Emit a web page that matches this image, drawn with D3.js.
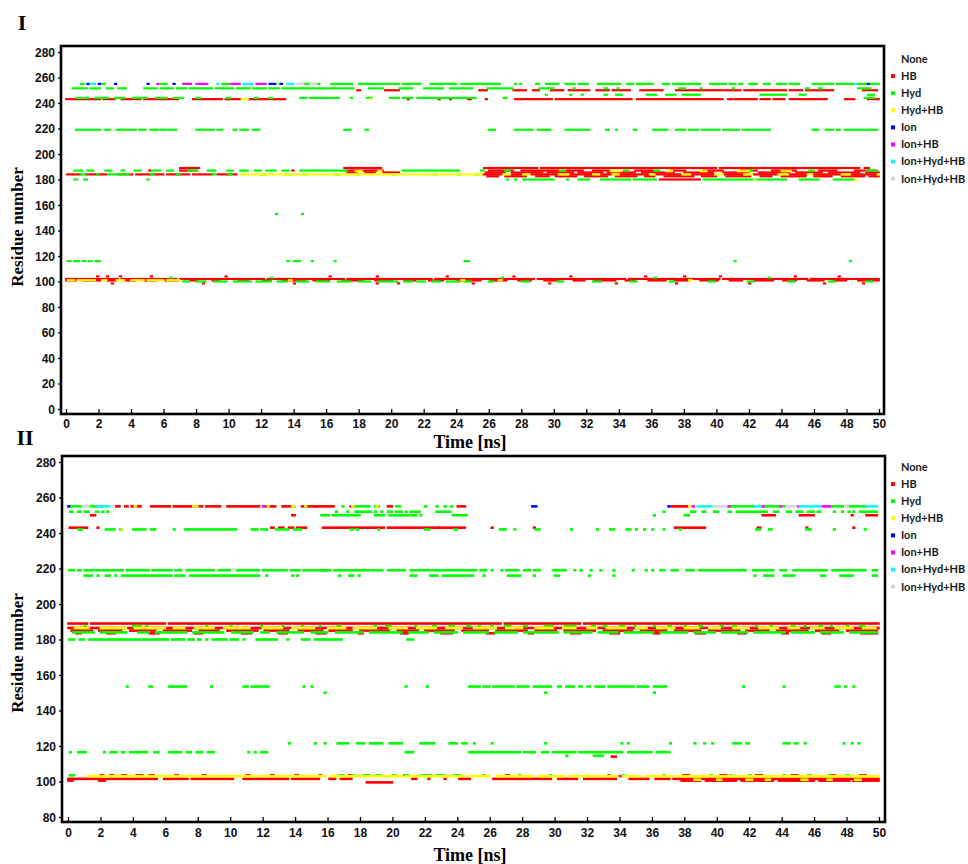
<!DOCTYPE html>
<html><head><meta charset="utf-8">
<script src="https://cdn.jsdelivr.net/npm/d3@7"></script>
<style>body{margin:0;background:#fff}</style></head>
<body><svg id="c" width="968" height="864"></svg>
<script>
// ---------- legend / categories ----------
const typeNames  = ["None","HB","Hyd","Hyd+HB","Ion","Ion+HB","Ion+Hyd+HB","Ion+Hyd+HB"];
const typeColors = [null,"#ff0000","#00ff00","#ffff00","#0000ff","#ff00ff","#00ffff","#d8d8d8"];
const xTicks  = [0,2,4,6,8,10,12,14,16,18,20,22,24,26,28,30,32,34,36,38,40,42,44,46,48,50];
const yTicks1 = [0,20,40,60,80,100,120,140,160,180,200,220,240,260,280];
const yTicks2 = [80,100,120,140,160,180,200,220,240,260,280];

// ---------- Panel I : [residue, [[tStart,tEnd],...]] ----------
const p1HB = [
 [250,[[17.9,18.1],[19.6,20.5],[25.4,25.9],[27.5,28.3],[28.7,29.1],[29.8,30.6],[30.9,32.2],[32.6,33.4],[33.6,34.7],[35.3,36.7],[37.5,40.4],[40.5,41.5],[41.7,44.3],[44.5,45.3],[45.5,47.2],[49.0,49.9]]],
 [243,[[0,2.1],[2.3,3.0],[3.4,4.6],[4.8,6.9],[7.8,9.6],[9.8,10.7],[11.2,13.5],[21.0,21.1],[22.9,23.0],[23.6,23.7],[24.7,24.9],[25.8,25.9],[27.6,29.9],[30.1,34.8],[35.1,40.4],[40.7,41.0],[41.1,42.5],[42.7,43.3],[43.5,44.2],[44.5,45.4],[45.5,46.8],[47.9,48.5],[49.3,50]]],
 [189,[[7.0,8.2],[17.1,19.4],[25.7,29.0],[29.2,40.0],[40.2,42.3],[42.4,48.8],[49.1,49.4]]],
 [187,[[5.1,5.2],[7.0,8.0],[13.9,14.0],[17.2,19.5],[26.0,27.5],[28.0,30.3],[30.8,31.8],[32.4,33.4],[35.0,36.1],[37.2,38.1],[39.2,40.4],[41.5,42.5],[43.4,44.9],[46.3,47.4],[48.5,49.8]]],
 [185.5,[[17.3,17.9],[18.4,19.0],[19.5,20.5],[25.8,27.0],[27.4,29.3],[29.6,31.2],[31.5,33.0],[33.3,35.0],[35.4,37.4],[38.0,39.8],[40.4,42.0],[42.6,44.5],[44.9,46.5],[46.9,48.8],[49.2,50]]],
 [184,[[0.04,0.9],[1.2,2.5],[3.2,4.1],[4.3,6.0],[6.2,7.6],[7.8,9.0],[9.3,10.5],[25.6,26.8],[27.4,28.0],[28.6,30.2],[31.0,32.4],[32.9,33.6],[34.1,35.9],[36.3,37.8],[38.4,39.9],[40.5,41.6],[42.3,43.8],[44.5,45.6],[46.0,47.7],[48.3,49.9]]],
 [182.5,[[25.9,26.6],[27.0,28.3],[28.9,29.7],[30.1,31.4],[31.9,33.3],[33.8,35.1],[35.6,36.2],[36.8,38.6],[39.1,40.0],[40.6,42.1],[42.7,43.4],[44.0,45.5],[46.0,47.1],[47.7,49.1],[49.4,50]]],
 [180,[[36.5,39.0]]],
 [104,[[1.9,2.0],[2.5,2.6],[3.3,3.4],[5.2,5.3],[9.8,9.9],[16.2,16.3],[19.1,19.2],[23.4,23.5],[27.5,27.6],[31.0,31.1],[35.6,35.7],[38.0,38.1],[40.2,40.3],[44.8,44.9],[47.5,47.6]]],
 [102,[[0,3.2],[3.4,6.8],[7.0,12.2],[12.4,17.1],[17.3,22.5],[22.7,28.8],[29.0,34.4],[34.6,40.2],[40.4,45.6],[45.8,50]]],
 [100.8,[[0,0.6],[1.0,2.1],[2.5,3.1],[3.6,4.3],[4.8,5.6],[6.1,6.9],[7.6,8.1],[9.0,9.4],[10.6,11.2],[12.1,12.6],[13.3,14.7],[15.2,16.2],[17.0,18.3],[19.0,20.1],[20.8,21.5],[22.3,23.2],[24.0,25.5],[26.1,27.1],[27.8,28.6],[29.4,30.3],[31.2,31.9],[32.5,33.8],[34.4,35.0],[35.8,36.9],[37.4,38.3],[39.0,40.1],[40.8,41.6],[42.3,43.5],[44.1,44.9],[45.6,46.6],[47.2,48.0],[48.7,50]]],
 [98.5,[[2.8,2.9],[8.4,8.5],[14.0,14.1],[19.1,19.2],[20.4,20.5],[25.0,25.1],[29.7,29.8],[33.8,33.9],[37.5,37.6],[42.0,42.1],[46.6,46.7],[49.0,49.1]]]
];
const p1Hyd = [
 [255,[[0.9,1.1],[1.5,1.7],[2.2,2.4],[5.8,6.2],[7.2,7.5],[9.6,10.0],[13.1,13.3],[14.4,15.6],[16.3,17.6],[18.0,20.5],[20.7,21.8],[22.4,24.0],[24.3,26.7],[27.6,27.7],[27.9,28.0],[28.9,29.1],[29.5,30.3],[30.7,31.3],[31.5,32.1],[32.7,34.1],[34.5,34.9],[35.1,36.1],[36.7,37.1],[37.3,39.0],[39.6,40.6],[40.8,41.2],[41.4,41.6],[42.0,42.5],[42.9,43.3],[43.7,44.3],[44.5,45.1],[45.9,47.2],[47.4,48.4],[48.7,50]]],
 [251.5,[[0.4,0.9],[1.0,1.3],[1.5,1.9],[2.0,2.1],[2.5,2.9],[3.2,3.7],[4.8,5.6],[5.8,6.6],[6.8,7.4],[7.6,9.0],[9.2,10.3],[10.5,11.3],[11.5,12.3],[12.5,13.1],[13.3,14.4],[14.4,17.7],[18.6,19.5],[20.5,21.3],[22.0,23.2],[23.6,25.0],[25.9,27.5],[29.1,30.0],[31.2,31.3],[33.1,33.3],[33.9,34.0],[37.7,38.1],[39.0,39.1],[41.0,41.1],[45.5,45.7],[46.3,46.5],[48.7,49.5]]],
 [246.5,[[29.5,29.6],[31.0,31.1],[31.7,31.8],[33.1,33.3],[33.8,34.2],[35.7,36.3],[36.9,37.5],[37.9,39.0],[42.7,44.3],[45.1,45.5],[49.3,49.7]]],
 [244,[[0.6,1.4],[1.8,2.6],[3.0,3.6],[4.1,5.0],[5.5,6.2],[6.6,7.2],[8.0,8.3],[9.9,10.1],[11.6,11.8],[12.5,12.7],[14.4,14.8],[15.0,16.4],[16.5,16.8],[17.5,17.6],[18.5,18.8],[19.9,20.5],[20.7,21.3],[21.6,25.2],[26.9,27.1],[49.1,49.7]]],
 [219,[[0.6,2.1],[2.4,2.7],[3.1,4.3],[4.5,4.9],[5.2,5.7],[5.8,6.2],[6.3,6.8],[8.0,9.1],[9.3,9.6],[10.3,10.5],[10.7,11.2],[11.5,11.9],[17.1,17.5],[18.4,18.6],[26.0,26.4],[27.6,28.7],[29.0,29.8],[30.7,32.2],[33.2,33.4],[33.8,33.9],[34.9,35.1],[36.1,37.0],[37.5,38.1],[38.3,38.9],[39.1,40.2],[40.4,41.4],[41.6,43.3],[45.9,46.3],[46.7,47.2],[47.4,47.6],[47.9,49.9]]],
 [187,[[0.5,1.0],[1.3,1.7],[2.4,2.8],[3.4,3.6],[4.2,4.6],[5.3,5.8],[6.2,6.6],[7.5,8.1],[8.7,9.2],[9.9,10.3],[10.7,11.2],[11.6,12.0],[12.3,12.9],[13.3,13.7],[14.4,17.3],[20.7,24.2],[25.5,25.7],[27.0,27.3],[30.4,30.7],[34.3,34.6],[36.2,36.5],[41.9,42.2],[45.7,46.0],[49.2,49.9]]],
 [184,[[0.9,1.2],[1.9,2.0],[2.6,3.9],[5.2,5.4],[6.8,7.0],[9.0,9.2],[10.0,10.2],[12.0,12.3],[13.5,13.8],[14.6,14.8],[16.5,16.8],[17.8,18.0],[20.1,20.3],[22.6,22.8],[24.1,24.3],[25.2,25.4]]],
 [180,[[0.5,0.7],[1.1,1.3],[5.0,5.1],[27.1,27.2],[27.6,27.7],[28.1,30.0],[30.8,30.9],[31.5,32.2],[32.9,34.7],[34.9,36.3],[39.2,40.6],[40.7,42.3],[42.5,44.3],[45.1,46.3],[47.2,48.5]]],
 [153,[[12.9,13.0],[14.5,14.6]]],
 [116,[[0.1,0.3],[0.5,0.8],[1.0,1.2],[1.4,1.6],[1.8,2.1],[13.6,13.7],[14.0,14.4],[15.1,15.2],[16.5,16.6],[24.5,24.8],[41.1,41.2],[48.2,48.3]]],
 [103,[[6.4,6.5],[12.6,12.7],[26.8,26.9],[36.2,36.3],[43.2,43.3]]],
 [100,[[7.2,7.6],[8.0,8.6],[9.1,9.9],[10.3,11.4],[11.7,12.6],[13.0,13.6],[14.2,14.9],[15.4,16.2],[16.7,17.5],[18.0,18.7],[19.2,20.4],[20.8,21.3],[21.6,22.1],[22.5,23.0],[23.4,24.2],[24.5,24.9],[26.0,26.3],[28.0,28.5],[30.2,30.6],[32.4,32.9],[34.7,35.1],[37.1,37.4],[39.5,39.9],[41.9,42.3],[44.4,44.8],[46.9,47.3],[49.2,49.6]]]
];
const p1HydHB = [
 [243,[[10.8,11.2],[18.7,18.8]]],
 [184,[[10.7,25.6],[26.9,27.3],[28.1,28.5],[30.3,30.9],[32.4,32.8],[33.6,34.0],[35.9,36.2],[37.9,38.4],[39.9,40.4],[41.7,42.2],[43.8,44.4],[45.6,45.9],[47.7,48.2],[49.9,50]]],
 [186.5,[[17.8,18.2],[19.2,19.4],[33.5,34.1],[36.9,37.3],[39.0,39.4],[41.3,42.0],[44.0,44.6]]],
 [101,[[0.1,0.5],[0.7,1.8],[2.2,2.5],[3.1,3.6],[4.0,4.8],[5.0,6.0],[6.2,7.0],[13.7,13.9],[24.3,24.5],[26.6,26.8],[38.3,38.5]]],
 [180,[[42.3,42.4],[48.5,48.6]]]
];
const p1Ion      = [[255,[[1.3,1.4],[2.0,2.1],[3.0,3.1],[5.0,5.1],[6.6,6.7],[12.5,12.9],[13.2,13.3],[49.3,49.4]]]];
const p1IonHB    = [[255,[[5.6,5.7],[7.2,7.7],[8.0,8.7],[10.1,10.7],[11.7,12.3]]]];
const p1IonHydHB = [[255,[[1.5,1.8],[9.3,9.4],[10.9,11.5],[13.6,14.0],[48.5,48.6]]]];
const p1Grey     = [[255,[[14.2,14.6],[15.0,15.4]]]];

// ---------- Panel II ----------
const p2HB = [
 [255,[[2.95,3.2],[3.5,3.7],[3.9,4.5],[5.1,6.3],[6.5,7.1],[7.2,8.3],[8.5,9.4],[9.8,11.8],[12.2,12.8],[13.2,14.0],[14.4,15.3],[15.3,16.4],[17.4,17.6],[19.7,20.0],[24.0,24.1],[24.2,24.5],[37.2,38.2]]],
 [250,[[1.4,1.7],[13.8,14.0],[42.8,43.6],[45.1,46.0],[48.3,48.4],[49.2,49.9]]],
 [243,[[0.08,1.2],[1.8,1.9],[12.5,12.7],[13.0,13.3],[13.6,13.9],[14.1,14.7],[15.7,18.5],[18.6,19.5],[19.7,20.0],[20.1,21.6],[21.7,22.9],[22.9,24.5],[26.1,26.2],[28.7,28.8],[37.4,39.3],[42.5,42.7],[45.5,45.6],[48.4,48.5]]],
 [189,[[0,1.2],[1.4,6.0],[6.2,26.7],[26.9,31.6],[31.8,50]]],
 [186.5,[[0,50]]],
 [185,[[0.2,1.5],[1.9,3.3],[3.8,5.4],[5.9,7.6],[8.1,9.3],[9.8,11.7],[12.1,13.6],[14.2,15.7],[16.1,17.5],[18.0,19.8],[20.3,21.6],[22.0,23.8],[24.3,25.9],[26.4,28.3],[28.8,30.1],[30.6,32.5],[33.0,34.8],[35.3,36.9],[37.4,39.0],[39.5,41.4],[41.8,43.2],[43.7,45.6],[46.1,47.5],[48.0,49.9]]],
 [183.5,[[0.5,0.8],[2.4,2.9],[5.0,5.6],[7.8,8.3],[10.7,11.3],[13.0,13.5],[15.3,15.9],[17.9,18.2],[20.5,21.0],[23.0,23.7],[25.8,26.3],[28.4,28.7],[31.0,31.6],[33.4,34.0],[36.1,36.5],[38.7,39.3],[41.3,41.8],[44.0,44.4],[46.5,47.0],[48.9,49.9]]],
 [114,[[33.5,33.8]]],
 [103.5,[[2.0,2.2],[2.6,2.8],[3.3,3.6],[4.2,4.6],[5.0,5.3],[6.6,6.8],[8.3,8.5],[11.0,11.2],[12.5,12.7],[14.0,14.2],[15.5,15.6],[17.3,17.5],[20.1,20.2],[27.0,27.2],[33.3,33.4],[37.9,38.3],[40.2,40.6],[42.4,42.8],[44.6,45.0],[46.9,47.3],[48.8,49.2]]],
 [101.5,[[0,5.5],[5.9,7.4],[7.6,10.2],[10.8,13.6],[13.8,15.5],[16.1,16.5],[16.8,17.5],[21.2,21.5],[22.2,22.3],[23.2,23.3],[24.1,24.8],[26.2,29.8],[30.2,31.4],[31.8,33.8],[34.6,35.8],[36.2,37.1],[37.3,50]]],
 [100.5,[[0,0.3],[1.9,2.3],[37.8,39.0],[39.3,41.2],[41.5,43.5],[43.8,46.0],[46.3,48.2],[48.4,50]]],
 [99.5,[[18.4,20.0]]]
];
const p2Hyd = [
 [255,[[0.15,0.9],[1.3,1.8],[2.0,2.1],[16.9,17.0],[17.7,18.6],[18.9,19.2],[20.2,20.5],[22.0,22.1],[22.7,22.8],[23.2,23.3],[23.6,23.7],[40.7,42.3],[42.9,43.8],[44.1,44.2],[47.1,47.8],[48.1,49.2]]],
 [252,[[0.1,0.3],[0.6,0.8],[1.0,1.3],[1.7,1.9],[2.1,2.2],[2.4,2.5],[16.5,16.6],[17.2,17.3],[17.7,18.7],[18.9,19.0],[19.3,19.4],[19.7,20.0],[20.2,20.6],[20.8,20.9],[21.1,21.7],[22.7,23.6],[36.7,36.8],[38.4,38.7],[39.1,39.3],[39.8,40.1],[40.7,40.9],[41.2,43.1],[43.5,43.8],[44.3,44.6],[44.9,45.3],[45.6,46.0],[46.2,46.4],[47.2,47.3],[47.7,47.8],[48.1,48.2],[48.4,48.5],[48.8,49.9]]],
 [250,[[15.6,15.7],[15.8,16.1],[16.3,18.0],[18.9,19.5],[19.8,21.0],[21.1,21.5],[21.7,21.8],[23.7,24.6],[36.1,36.2],[38.0,38.3]]],
 [242,[[0.6,0.9],[2.3,2.9],[3.2,3.3],[4.0,4.8],[5.1,5.4],[6.5,6.6],[7.2,10.4],[11.3,11.7],[11.9,12.3],[12.8,13.6],[13.9,14.4],[17.4,17.6],[17.8,17.9],[19.1,19.2],[22.0,22.3],[23.8,24.0],[26.6,27.0],[27.5,27.6],[28.8,29.1],[31.0,31.1],[32.6,32.7],[33.4,33.7],[34.4,34.7],[35.0,35.1],[35.5,35.6],[36.0,36.1],[36.7,36.8],[37.7,37.8],[42.4,42.7],[43.2,43.4],[45.5,45.8],[47.2,47.3],[49.1,49.2]]],
 [219,[[0.05,0.4],[0.6,0.8],[1.0,1.6],[1.7,2.4],[2.5,3.1],[3.2,3.4],[3.6,5.0],[5.2,6.4],[6.6,7.0],[7.3,8.2],[8.3,9.0],[9.3,10.0],[10.4,10.8],[10.9,11.8],[12.0,12.6],[12.7,13.5],[13.7,14.3],[14.5,15.9],[15.6,16.2],[16.4,18.6],[18.7,19.4],[19.7,20.8],[21.1,21.5],[21.6,22.3],[22.4,23.0],[23.1,24.6],[24.7,25.2],[25.4,25.8],[26.1,26.2],[26.7,26.8],[27.0,27.8],[28.1,28.5],[28.7,29.1],[29.9,30.7],[31.2,31.3],[31.6,31.7],[32.2,32.3],[32.8,32.9],[33.6,33.7],[34.8,34.9],[35.6,35.7],[36.0,36.1],[36.5,36.8],[37.2,37.6],[38.1,38.6],[38.9,41.8],[42.2,43.5],[43.9,44.3],[44.7,45.0],[45.1,46.8],[47.1,49.2],[49.6,49.9]]],
 [216,[[1.0,1.5],[1.8,1.9],[2.3,2.6],[2.9,3.0],[3.3,6.4],[6.6,7.2],[7.5,11.8],[12.2,12.3],[13.8,13.9],[14.1,14.2],[16.7,16.8],[17.3,17.6],[17.9,18.0],[21.1,21.5],[22.3,22.8],[23.1,25.0],[25.6,25.7],[27.1,27.9],[28.7,28.8],[30.0,30.3],[32.1,32.2],[33.6,33.7],[42.3,42.4],[42.9,43.5],[44.1,44.8],[46.4,46.7],[47.6,48.4],[49.6,49.9]]],
 [187.5,[[1.0,1.1],[4.0,4.5],[4.8,4.9],[8.5,8.6],[10.0,10.1],[11.9,12.0],[13.2,13.3],[14.4,14.5],[15.5,15.6],[16.6,16.8],[18.9,19.0],[19.6,19.9],[21.4,21.5],[22.5,22.7],[23.5,23.8],[24.6,24.8],[25.3,25.4],[26.1,26.2],[26.9,27.3],[28.1,28.3],[29.4,29.9],[30.6,31.3],[32.3,32.5],[33.0,33.2],[34.0,34.3],[34.9,35.0],[36.1,36.2],[37.0,37.2],[38.0,38.1],[38.9,39.1],[40.2,40.4],[41.0,41.2],[42.4,42.5],[43.3,43.4],[44.6,44.8],[45.4,45.5],[46.3,46.5],[47.0,47.1],[48.0,48.1],[48.8,49.1]]],
 [184,[[0.3,1.6],[2.0,3.6],[4.3,5.0],[5.4,7.3],[7.7,9.6],[10.1,11.4],[11.9,12.4],[12.9,14.5],[15.0,16.0],[16.5,18.2],[18.6,20.6],[21.0,22.2],[22.6,24.0],[24.4,25.9],[26.3,27.7],[28.1,30.2],[30.6,32.3],[32.7,33.9],[34.3,36.1],[36.5,38.2],[38.6,39.9],[40.3,41.9],[42.3,44.2],[44.6,46.0],[46.4,47.8],[48.2,49.9]]],
 [180,[[0.05,0.4],[0.7,1.0],[1.3,2.6],[2.7,4.0],[4.1,4.5],[4.6,6.2],[6.4,7.2],[7.4,7.8],[8.0,8.2],[8.5,8.6],[8.9,9.8],[10.0,10.5],[10.8,10.9],[11.6,12.9],[13.5,13.6],[14.4,14.9],[15.2,16.9],[20.9,21.3]]],
 [153.5,[[3.6,3.7],[5.0,5.2],[6.2,7.3],[8.8,8.9],[10.8,11.1],[11.3,12.4],[14.5,14.6],[15.0,15.1],[20.8,20.9],[22.1,22.2],[24.7,25.4],[25.6,26.0],[26.2,27.5],[27.7,28.4],[28.7,29.8],[30.2,30.4],[30.7,31.2],[31.5,31.7],[32.0,32.2],[32.5,33.1],[33.3,34.9],[35.1,35.8],[36.1,36.9],[41.6,41.7],[44.1,44.2],[47.3,47.6],[47.9,48.0],[48.4,48.5]]],
 [150,[[15.8,15.9],[29.4,29.5],[36.1,36.2]]],
 [121.5,[[13.6,13.7],[15.2,15.3],[15.8,15.9],[16.6,17.3],[17.8,18.3],[18.6,19.4],[19.8,20.6],[21.7,22.6],[23.5,24.0],[24.3,24.6],[25.0,25.1],[26.1,26.2],[29.4,29.5],[34.1,34.2],[34.5,34.6],[37.1,37.2],[38.6,38.7],[39.2,39.3],[39.7,39.8],[41.0,41.5],[41.8,42.0],[44.1,44.5],[44.8,45.0],[45.4,45.5],[47.8,47.9],[48.3,48.4],[48.7,48.8]]],
 [116.5,[[0.1,0.2],[0.6,1.1],[2.2,2.3],[2.6,3.0],[3.3,3.5],[3.8,4.9],[5.3,5.6],[6.2,7.0],[7.3,7.6],[7.9,8.3],[8.6,9.0],[11.1,11.2],[11.5,11.6],[11.9,12.3],[20.8,21.3],[24.7,25.4],[25.5,27.9],[28.1,28.8],[29.2,29.6],[29.9,31.3],[31.5,34.2],[34.5,36.0],[36.3,36.9],[37.0,37.1]]],
 [114.5,[[30.7,30.8],[32.4,33.0]]],
 [103.5,[[0.1,0.4],[16.7,17.0],[17.5,17.6],[18.2,18.6],[19.0,19.3],[20.0,20.2],[20.7,21.0],[21.8,22.4],[22.7,23.2],[23.8,24.2],[25.6,25.7],[27.8,27.9],[29.7,29.8],[34.2,34.3],[36.7,36.8],[39.6,39.7],[40.8,40.9],[42.0,42.1],[44.1,44.2],[45.6,45.8],[46.9,47.0],[48.0,48.1]]]
];
const p2HydHB = [
 [255,[[4.1,4.2],[7.7,7.8],[7.9,8.0],[12.3,12.4],[13.8,14.0],[14.6,14.7],[17.5,17.6],[19.0,19.1],[38.3,38.5]]],
 [242,[[3.3,3.4]]],
 [186.5,[[0.4,1.3],[2.0,3.6],[4.1,6.0],[6.5,7.2],[7.8,9.0],[9.6,11.2],[12.0,13.2],[13.8,15.2],[16.0,17.1],[17.6,19.0],[19.8,20.9],[21.5,22.7],[23.3,24.3],[25.0,26.4],[27.0,28.0],[28.8,29.9],[30.5,31.3],[32.0,32.6],[33.2,34.4],[35.0,35.7],[36.3,37.4],[38.0,38.9],[39.5,40.2],[41.0,42.0],[42.6,43.8],[44.4,45.1],[45.8,46.6],[47.3,48.4],[49.0,49.8]]],
 [103,[[1.2,6.8],[7.0,11.6],[11.8,15.9],[16.2,20.6],[20.8,24.6],[24.8,26.0],[26.4,28.7],[29.0,30.6],[30.9,32.8],[33.0,35.3],[35.6,37.3],[37.5,50]]],
 [101,[[38.6,39.0],[40.0,40.3],[41.8,42.2],[43.0,43.3],[45.2,45.6],[46.8,47.1],[48.5,48.9]]]
];
const p2Ion      = [[255,[[0,0.1],[28.6,28.9],[37.0,37.1]]]];
const p2IonHB    = [[255,[[12.0,12.1],[38.5,38.6],[40.7,40.8],[42.8,42.9],[43.9,44.0],[45.0,45.1],[46.5,47.0]]],[103,[[34.0,34.1]]]];
const p2IonHydHB = [[255,[[1.8,2.0],[2.1,2.6],[38.8,39.7],[42.3,42.7],[45.1,46.4],[49.2,49.9]]]];
const p2Grey     = [[255,[[0.9,1.3],[2.6,2.8],[39.8,40.6],[44.3,44.9],[47.9,48.1]]]];

// ---------- drawing ----------
const svg = d3.select("#c");
const serif = "'Liberation Serif','Times New Roman',serif";
const sans  = "'Liberation Sans',Arial,sans-serif";

function drawPanel(cfg){
  const g = svg.append("g");
  const x = d3.scaleLinear().domain([0,50]).range(cfg.xr);
  const y = d3.scaleLinear().domain(cfg.yd).range(cfg.yr);
  const layers = [[cfg.HB,1],[cfg.Hyd,2],[cfg.HydHB,3],[cfg.Ion,4],[cfg.IonHB,5],[cfg.IonHydHB,6],[cfg.Grey,7]];
  layers.forEach(([rows,ti])=>{
    const segs = [];
    rows.forEach(([r,list])=>list.forEach(([a,b])=>segs.push({r,a,b})));
    g.append("g").selectAll("rect").data(segs).join("rect")
      .attr("x",d=>x(d.a)-0.8)
      .attr("y",d=>y(d.r)-cfg.mh/2)
      .attr("width",d=>Math.max(x(d.b)-x(d.a)+1.6,2.4))
      .attr("height",cfg.mh)
      .attr("fill",typeColors[ti]);
  });
  g.append("rect").attr("x",cfg.fx[0]).attr("y",cfg.fy[0])
    .attr("width",cfg.fx[1]-cfg.fx[0]).attr("height",cfg.fy[1]-cfg.fy[0])
    .attr("fill","none").attr("stroke","#000").attr("stroke-width",2.6);
  const xa = g.append("g").attr("transform",`translate(0,${cfg.fy[1]})`)
    .call(d3.axisBottom(x).tickValues(xTicks).tickSizeInner(-5).tickSizeOuter(0).tickPadding(0));
  xa.select(".domain").remove();
  xa.selectAll("line").attr("stroke","#000").attr("stroke-width",1.3);
  xa.selectAll("text").attr("y",cfg.xlab-cfg.fy[1]).attr("dy",0)
    .style("font-family",sans).style("font-size","12px").style("font-weight","bold").attr("fill","#111");
  const ya = g.append("g").attr("transform",`translate(${cfg.fx[0]},0)`)
    .call(d3.axisLeft(y).tickValues(cfg.yTicks).tickSizeInner(3).tickSizeOuter(0).tickPadding(3));
  ya.select(".domain").remove();
  ya.selectAll("line").attr("stroke","#000").attr("stroke-width",1.3);
  ya.selectAll("text").attr("dy","0.36em")
    .style("font-family",sans).style("font-size","12px").style("font-weight","bold").attr("fill","#111");
  g.append("text").attr("x",470).attr("y",cfg.xt).attr("text-anchor","middle")
    .style("font-family",serif).style("font-size","18px").style("font-weight","bold").text("Time [ns]");
  g.append("text").attr("transform",`translate(23,${cfg.yt}) rotate(-90)`).attr("text-anchor","middle")
    .style("font-family",serif).style("font-size","17px").style("font-weight","bold").text("Residue number");
  g.append("text").attr("x",cfg.lx).attr("y",cfg.ly).attr("text-anchor","middle")
    .style("font-family",serif).style("font-size","22px").style("font-weight","bold").text(cfg.label);
  const lg = g.append("g");
  typeNames.forEach((n,i)=>{
    const yy = cfg.legY + i*17.1;
    if(typeColors[i]) lg.append("rect").attr("x",891).attr("y",yy-2).attr("width",4).attr("height",4).attr("fill",typeColors[i]);
    lg.append("text").attr("x",901).attr("y",yy).attr("dy","0.35em")
      .style("font-family","Lato,'Open Sans',sans-serif").style("font-size","11px").style("font-weight","bold")
      .attr("fill","#1a1a1a").text(n);
  });
}

drawPanel({xr:[66,879], yd:[0,280], yr:[409,52], fx:[61,884], fy:[46,414], mh:2.2,
  HB:p1HB, Hyd:p1Hyd, HydHB:p1HydHB, Ion:p1Ion, IonHB:p1IonHB, IonHydHB:p1IonHydHB, Grey:p1Grey,
  yTicks:yTicks1, xlab:428, xt:448, yt:227, label:"I", lx:22, ly:30, legY:59});
drawPanel({xr:[68,879], yd:[80,280], yr:[817,462], fx:[62,885], fy:[456,822], mh:2.6,
  HB:p2HB, Hyd:p2Hyd, HydHB:p2HydHB, Ion:p2Ion, IonHB:p2IonHB, IonHydHB:p2IonHydHB, Grey:p2Grey,
  yTicks:yTicks2, xlab:837, xt:861, yt:653, label:"II", lx:25, ly:445, legY:467});
</script></body></html>
